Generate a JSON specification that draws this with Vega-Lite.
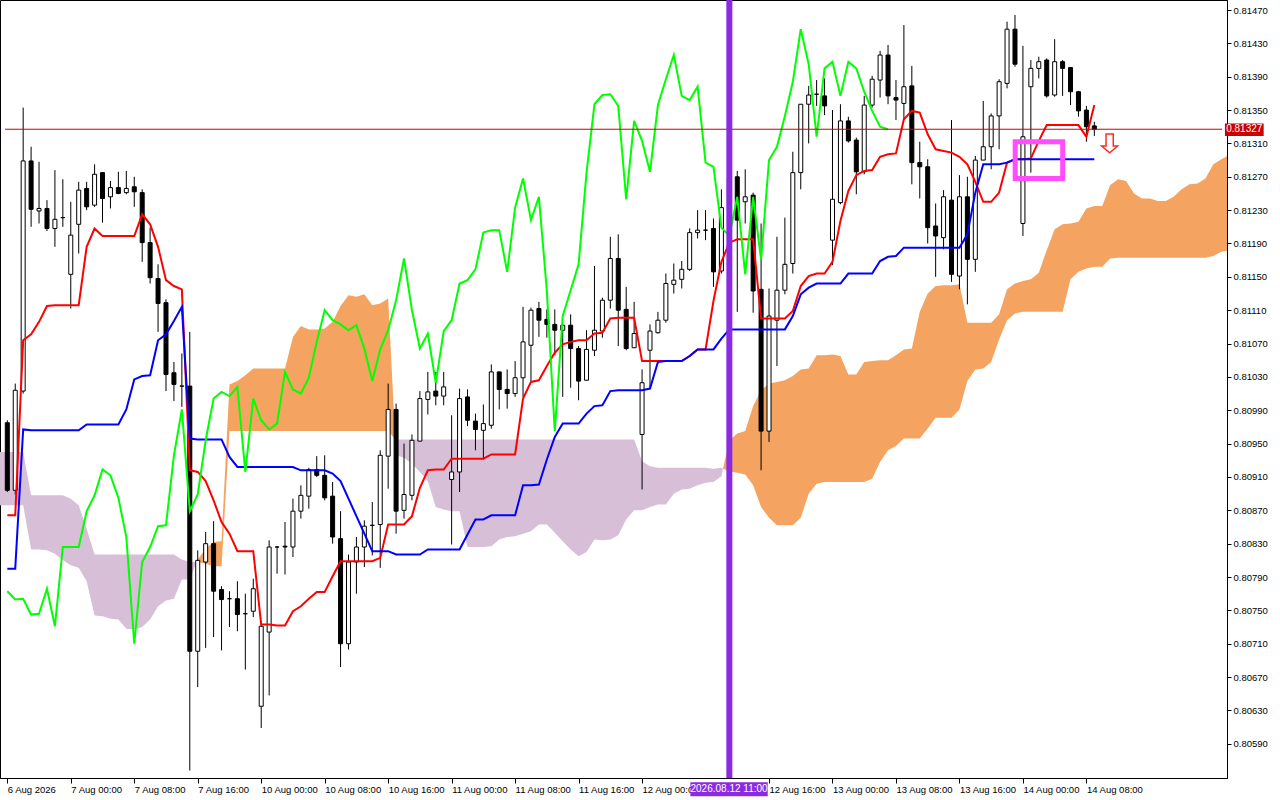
{
  "$schema": "https://vega.github.io/schema/vega-lite/v6.json",
  "width": 1227,
  "height": 778,
  "autosize": "none",
  "padding": {"left": 0, "top": 0, "right": 53, "bottom": 22},
  "background": "#ffffff",
  "datasets": {
    "bars": [
      {"i":0,"o":0.80975,"h":0.80978,"l":0.80892,"c":0.80894,"tk":0.80864,"kj":0.80800,"ck":0.80773},
      {"i":1,"o":0.80894,"h":0.81022,"l":0.80889,"c":0.81014,"tk":0.80864,"kj":0.80800,"ck":0.80763},
      {"i":2,"o":0.81013,"h":0.81353,"l":0.81010,"c":0.81289,"tk":0.81074,"kj":0.80967,"ck":0.80764},
      {"i":3,"o":0.81289,"h":0.81306,"l":0.81210,"c":0.81231,"tk":0.81081,"kj":0.80966,"ck":0.80745},
      {"i":4,"o":0.81229,"h":0.81288,"l":0.81214,"c":0.81232,"tk":0.81096,"kj":0.80966,"ck":0.80746},
      {"i":5,"o":0.81232,"h":0.81242,"l":0.81205,"c":0.81208,"tk":0.81115,"kj":0.80966,"ck":0.80776},
      {"i":6,"o":0.81208,"h":0.81278,"l":0.81186,"c":0.81219,"tk":0.81116,"kj":0.80966,"ck":0.80731},
      {"i":7,"o":0.81221,"h":0.81267,"l":0.81210,"c":0.81221,"tk":0.81116,"kj":0.80966,"ck":0.80826},
      {"i":8,"o":0.81153,"h":0.81240,"l":0.81112,"c":0.81200,"tk":0.81116,"kj":0.80966,"ck":0.80826},
      {"i":9,"o":0.81213,"h":0.81264,"l":0.81178,"c":0.81254,"tk":0.81116,"kj":0.80966,"ck":0.80826},
      {"i":10,"o":0.81256,"h":0.81264,"l":0.81230,"c":0.81234,"tk":0.81186,"kj":0.80973,"ck":0.80869},
      {"i":11,"o":0.81236,"h":0.81285,"l":0.81234,"c":0.81273,"tk":0.81208,"kj":0.80973,"ck":0.80888},
      {"i":12,"o":0.81275,"h":0.81275,"l":0.81215,"c":0.81244,"tk":0.81199,"kj":0.80973,"ck":0.80919},
      {"i":13,"o":0.81246,"h":0.81265,"l":0.81232,"c":0.81257,"tk":0.81199,"kj":0.80973,"ck":0.80912},
      {"i":14,"o":0.81257,"h":0.81276,"l":0.81249,"c":0.81250,"tk":0.81199,"kj":0.80973,"ck":0.80885},
      {"i":15,"o":0.81251,"h":0.81277,"l":0.81249,"c":0.81256,"tk":0.81199,"kj":0.80991,"ck":0.80838},
      {"i":16,"o":0.81258,"h":0.81270,"l":0.81234,"c":0.81252,"tk":0.81199,"kj":0.81027,"ck":0.80710},
      {"i":17,"o":0.81251,"h":0.81255,"l":0.81168,"c":0.81191,"tk":0.81225,"kj":0.81031,"ck":0.80808},
      {"i":18,"o":0.81191,"h":0.81209,"l":0.81142,"c":0.81149,"tk":0.81213,"kj":0.81032,"ck":0.80826},
      {"i":19,"o":0.81148,"h":0.81165,"l":0.81084,"c":0.81118,"tk":0.81186,"kj":0.81074,"ck":0.80851},
      {"i":20,"o":0.81119,"h":0.81123,"l":0.81013,"c":0.81033,"tk":0.81146,"kj":0.81081,"ck":0.80852},
      {"i":21,"o":0.81035,"h":0.81048,"l":0.81001,"c":0.81021,"tk":0.81139,"kj":0.81097,"ck":0.80936},
      {"i":22,"o":0.81019,"h":0.81058,"l":0.80994,"c":0.81019,"tk":0.81135,"kj":0.81114,"ck":0.80991},
      {"i":23,"o":0.81019,"h":0.81084,"l":0.80558,"c":0.80701,"tk":0.80918,"kj":0.80956,"ck":0.80869},
      {"i":24,"o":0.80701,"h":0.80822,"l":0.80658,"c":0.80810,"tk":0.80916,"kj":0.80955,"ck":0.80889},
      {"i":25,"o":0.80808,"h":0.80844,"l":0.80705,"c":0.80830,"tk":0.80905,"kj":0.80955,"ck":0.80954},
      {"i":26,"o":0.80830,"h":0.80857,"l":0.80718,"c":0.80773,"tk":0.80882,"kj":0.80955,"ck":0.81004},
      {"i":27,"o":0.80775,"h":0.80779,"l":0.80702,"c":0.80763,"tk":0.80856,"kj":0.80955,"ck":0.81012},
      {"i":28,"o":0.80764,"h":0.80773,"l":0.80730,"c":0.80764,"tk":0.80842,"kj":0.80934,"ck":0.81007},
      {"i":29,"o":0.80764,"h":0.80785,"l":0.80725,"c":0.80745,"tk":0.80821,"kj":0.80922,"ck":0.81018},
      {"i":30,"o":0.80746,"h":0.80770,"l":0.80679,"c":0.80746,"tk":0.80821,"kj":0.80922,"ck":0.80916},
      {"i":31,"o":0.80749,"h":0.80788,"l":0.80742,"c":0.80776,"tk":0.80821,"kj":0.80922,"ck":0.81004},
      {"i":32,"o":0.80635,"h":0.80737,"l":0.80609,"c":0.80731,"tk":0.80733,"kj":0.80922,"ck":0.80978},
      {"i":33,"o":0.80724,"h":0.80834,"l":0.80648,"c":0.80826,"tk":0.80733,"kj":0.80922,"ck":0.80967},
      {"i":34,"o":0.80826,"h":0.80827,"l":0.80794,"c":0.80826,"tk":0.80732,"kj":0.80922,"ck":0.80974},
      {"i":35,"o":0.80827,"h":0.80856,"l":0.80793,"c":0.80826,"tk":0.80732,"kj":0.80922,"ck":0.81036},
      {"i":36,"o":0.80826,"h":0.80884,"l":0.80814,"c":0.80869,"tk":0.80749,"kj":0.80922,"ck":0.81015},
      {"i":37,"o":0.80869,"h":0.80900,"l":0.80860,"c":0.80888,"tk":0.80755,"kj":0.80918,"ck":0.81010},
      {"i":38,"o":0.80887,"h":0.80921,"l":0.80872,"c":0.80919,"tk":0.80764,"kj":0.80918,"ck":0.81029},
      {"i":39,"o":0.80919,"h":0.80935,"l":0.80910,"c":0.80912,"tk":0.80772,"kj":0.80918,"ck":0.81072},
      {"i":40,"o":0.80912,"h":0.80936,"l":0.80882,"c":0.80885,"tk":0.80772,"kj":0.80918,"ck":0.81110},
      {"i":41,"o":0.80887,"h":0.80904,"l":0.80830,"c":0.80838,"tk":0.80791,"kj":0.80914,"ck":0.81098},
      {"i":42,"o":0.80836,"h":0.80869,"l":0.80682,"c":0.80710,"tk":0.80809,"kj":0.80905,"ck":0.81093},
      {"i":43,"o":0.80710,"h":0.80817,"l":0.80703,"c":0.80808,"tk":0.80809,"kj":0.80884,"ck":0.81086},
      {"i":44,"o":0.80808,"h":0.80838,"l":0.80770,"c":0.80826,"tk":0.80809,"kj":0.80863,"ck":0.81092},
      {"i":45,"o":0.80826,"h":0.80858,"l":0.80802,"c":0.80851,"tk":0.80809,"kj":0.80842,"ck":0.81064},
      {"i":46,"o":0.80852,"h":0.80880,"l":0.80816,"c":0.80852,"tk":0.80809,"kj":0.80821,"ck":0.81025},
      {"i":47,"o":0.80853,"h":0.80942,"l":0.80801,"c":0.80936,"tk":0.80813,"kj":0.80821,"ck":0.81063},
      {"i":48,"o":0.80935,"h":0.81022,"l":0.80896,"c":0.80991,"tk":0.80853,"kj":0.80821,"ck":0.81086},
      {"i":49,"o":0.80991,"h":0.80998,"l":0.80842,"c":0.80869,"tk":0.80853,"kj":0.80817,"ck":0.81122},
      {"i":50,"o":0.80870,"h":0.80950,"l":0.80860,"c":0.80889,"tk":0.80853,"kj":0.80817,"ck":0.81172},
      {"i":51,"o":0.80888,"h":0.80961,"l":0.80882,"c":0.80954,"tk":0.80863,"kj":0.80817,"ck":0.81110},
      {"i":52,"o":0.80953,"h":0.81013,"l":0.80953,"c":0.81004,"tk":0.80897,"kj":0.80817,"ck":0.81064},
      {"i":53,"o":0.81003,"h":0.81036,"l":0.80985,"c":0.81012,"tk":0.80918,"kj":0.80823,"ck":0.81082},
      {"i":54,"o":0.81013,"h":0.81036,"l":0.80996,"c":0.81007,"tk":0.80919,"kj":0.80823,"ck":0.81023},
      {"i":55,"o":0.81007,"h":0.81036,"l":0.80996,"c":0.81018,"tk":0.80919,"kj":0.80823,"ck":0.81085},
      {"i":56,"o":0.80907,"h":0.80984,"l":0.80829,"c":0.80916,"tk":0.80932,"kj":0.80823,"ck":0.81098},
      {"i":57,"o":0.80916,"h":0.81016,"l":0.80892,"c":0.81004,"tk":0.80932,"kj":0.80823,"ck":0.81142},
      {"i":58,"o":0.81006,"h":0.81015,"l":0.80971,"c":0.80978,"tk":0.80932,"kj":0.80841,"ck":0.81146},
      {"i":59,"o":0.80977,"h":0.80986,"l":0.80942,"c":0.80967,"tk":0.80932,"kj":0.80859,"ck":0.81159},
      {"i":60,"o":0.80966,"h":0.80997,"l":0.80931,"c":0.80974,"tk":0.80932,"kj":0.80859,"ck":0.81203},
      {"i":61,"o":0.80972,"h":0.81045,"l":0.80968,"c":0.81036,"tk":0.80937,"kj":0.80864,"ck":0.81206},
      {"i":62,"o":0.81036,"h":0.81036,"l":0.80991,"c":0.81015,"tk":0.80937,"kj":0.80864,"ck":0.81206},
      {"i":63,"o":0.81015,"h":0.81039,"l":0.80992,"c":0.81010,"tk":0.80937,"kj":0.80864,"ck":0.81156},
      {"i":64,"o":0.81010,"h":0.81049,"l":0.81006,"c":0.81029,"tk":0.80937,"kj":0.80864,"ck":0.81233},
      {"i":65,"o":0.81029,"h":0.81114,"l":0.81006,"c":0.81072,"tk":0.81004,"kj":0.80900,"ck":0.81268},
      {"i":66,"o":0.81068,"h":0.81113,"l":0.81025,"c":0.81110,"tk":0.81024,"kj":0.80900,"ck":0.81218},
      {"i":67,"o":0.81112,"h":0.81120,"l":0.81078,"c":0.81098,"tk":0.81026,"kj":0.80901,"ck":0.81246},
      {"i":68,"o":0.81099,"h":0.81111,"l":0.81077,"c":0.81093,"tk":0.81043,"kj":0.80931,"ck":0.81133},
      {"i":69,"o":0.81093,"h":0.81111,"l":0.81056,"c":0.81086,"tk":0.81059,"kj":0.80958,"ck":0.80965},
      {"i":70,"o":0.81086,"h":0.81093,"l":0.81006,"c":0.81092,"tk":0.81069,"kj":0.80974,"ck":0.81103},
      {"i":71,"o":0.81092,"h":0.81105,"l":0.81017,"c":0.81064,"tk":0.81072,"kj":0.80974,"ck":0.81134},
      {"i":72,"o":0.81064,"h":0.81067,"l":0.81002,"c":0.81025,"tk":0.81074,"kj":0.80974,"ck":0.81165},
      {"i":73,"o":0.81026,"h":0.81086,"l":0.81026,"c":0.81063,"tk":0.81074,"kj":0.80986,"ck":0.81275},
      {"i":74,"o":0.81062,"h":0.81163,"l":0.81055,"c":0.81086,"tk":0.81082,"kj":0.80995,"ck":0.81357},
      {"i":75,"o":0.81085,"h":0.81125,"l":0.81077,"c":0.81122,"tk":0.81083,"kj":0.80996,"ck":0.81368},
      {"i":76,"o":0.81122,"h":0.81198,"l":0.81112,"c":0.81172,"tk":0.81100,"kj":0.81013,"ck":0.81369},
      {"i":77,"o":0.81172,"h":0.81201,"l":0.81067,"c":0.81110,"tk":0.81101,"kj":0.81014,"ck":0.81355},
      {"i":78,"o":0.81111,"h":0.81138,"l":0.81062,"c":0.81064,"tk":0.81101,"kj":0.81014,"ck":0.81243},
      {"i":79,"o":0.81065,"h":0.81120,"l":0.81065,"c":0.81082,"tk":0.81101,"kj":0.81014,"ck":0.81337},
      {"i":80,"o":0.80961,"h":0.81039,"l":0.80895,"c":0.81023,"tk":0.81049,"kj":0.81014,"ck":0.81313},
      {"i":81,"o":0.81062,"h":0.81093,"l":0.81016,"c":0.81085,"tk":0.81049,"kj":0.81016,"ck":0.81276},
      {"i":82,"o":0.81083,"h":0.81108,"l":0.81082,"c":0.81098,"tk":0.81049,"kj":0.81048,"ck":0.81356},
      {"i":83,"o":0.81098,"h":0.81154,"l":0.81095,"c":0.81142,"tk":0.81049,"kj":0.81049,"ck":0.81387},
      {"i":84,"o":0.81141,"h":0.81166,"l":0.81130,"c":0.81146,"tk":0.81049,"kj":0.81049,"ck":0.81416},
      {"i":85,"o":0.81147,"h":0.81169,"l":0.81136,"c":0.81159,"tk":0.81049,"kj":0.81049,"ck":0.81367},
      {"i":86,"o":0.81159,"h":0.81208,"l":0.81157,"c":0.81203,"tk":0.81055,"kj":0.81055,"ck":0.81362},
      {"i":87,"o":0.81203,"h":0.81230,"l":0.81196,"c":0.81206,"tk":0.81063,"kj":0.81063,"ck":0.81378},
      {"i":88,"o":0.81206,"h":0.81230,"l":0.81194,"c":0.81206,"tk":0.81063,"kj":0.81063,"ck":0.81287},
      {"i":89,"o":0.81208,"h":0.81220,"l":0.81138,"c":0.81156,"tk":0.81121,"kj":0.81063,"ck":0.81282},
      {"i":90,"o":0.81157,"h":0.81255,"l":0.81154,"c":0.81233,"tk":0.81168,"kj":0.81076,"ck":0.81209},
      {"i":91,"o":0.81233,"h":0.81282,"l":0.81220,"c":0.81268,"tk":0.81191,"kj":0.81087,"ck":0.81199},
      {"i":92,"o":0.81270,"h":0.81277,"l":0.81108,"c":0.81218,"tk":0.81195,"kj":0.81087,"ck":0.81246},
      {"i":93,"o":0.81240,"h":0.81279,"l":0.81214,"c":0.81246,"tk":0.81195,"kj":0.81087,"ck":0.81153},
      {"i":94,"o":0.81248,"h":0.81251,"l":0.81107,"c":0.81133,"tk":0.81195,"kj":0.81087,"ck":0.81246},
      {"i":95,"o":0.81135,"h":0.81214,"l":0.80918,"c":0.80965,"tk":0.81100,"kj":0.81087,"ck":0.81171},
      {"i":96,"o":0.80965,"h":0.81136,"l":0.80952,"c":0.81103,"tk":0.81100,"kj":0.81087,"ck":0.81290},
      {"i":97,"o":0.81098,"h":0.81198,"l":0.81043,"c":0.81134,"tk":0.81100,"kj":0.81087,"ck":0.81306},
      {"i":98,"o":0.81134,"h":0.81221,"l":0.81129,"c":0.81165,"tk":0.81100,"kj":0.81087,"ck":0.81343},
      {"i":99,"o":0.81166,"h":0.81300,"l":0.81154,"c":0.81275,"tk":0.81109,"kj":0.81103,"ck":0.81384},
      {"i":100,"o":0.81275,"h":0.81357,"l":0.81255,"c":0.81357,"tk":0.81139,"kj":0.81129,"ck":0.81447},
      {"i":101,"o":0.81357,"h":0.81379,"l":0.81310,"c":0.81368,"tk":0.81151,"kj":0.81137,"ck":0.81405},
      {"i":102,"o":0.81369,"h":0.81386,"l":0.81355,"c":0.81369,"tk":0.81154,"kj":0.81142,"ck":0.81318},
      {"i":103,"o":0.81367,"h":0.81388,"l":0.81344,"c":0.81355,"tk":0.81154,"kj":0.81142,"ck":0.81400},
      {"i":104,"o":0.81194,"h":0.81350,"l":0.81164,"c":0.81243,"tk":0.81168,"kj":0.81142,"ck":0.81408},
      {"i":105,"o":0.81239,"h":0.81357,"l":0.81237,"c":0.81337,"tk":0.81217,"kj":0.81142,"ck":0.81367},
      {"i":106,"o":0.81337,"h":0.81342,"l":0.81311,"c":0.81313,"tk":0.81253,"kj":0.81154,"ck":0.81408},
      {"i":107,"o":0.81314,"h":0.81317,"l":0.81249,"c":0.81276,"tk":0.81272,"kj":0.81154,"ck":0.81400},
      {"i":108,"o":0.81276,"h":0.81367,"l":0.81273,"c":0.81356,"tk":0.81277,"kj":0.81154,"ck":0.81372},
      {"i":109,"o":0.81356,"h":0.81391,"l":0.81353,"c":0.81387,"tk":0.81278,"kj":0.81154,"ck":0.81349},
      {"i":110,"o":0.81386,"h":0.81421,"l":0.81365,"c":0.81416,"tk":0.81294,"kj":0.81169,"ck":0.81330},
      {"i":111,"o":0.81416,"h":0.81428,"l":0.81357,"c":0.81367,"tk":0.81297,"kj":0.81174,"ck":0.81327},
      {"i":112,"o":0.81365,"h":0.81386,"l":0.81338,"c":0.81362,"tk":0.81298,"kj":0.81175},
      {"i":113,"o":0.81358,"h":0.81452,"l":0.81338,"c":0.81378,"tk":0.81339,"kj":0.81185},
      {"i":114,"o":0.81379,"h":0.81403,"l":0.81261,"c":0.81287,"tk":0.81349,"kj":0.81185},
      {"i":115,"o":0.81287,"h":0.81312,"l":0.81244,"c":0.81282,"tk":0.81347,"kj":0.81185},
      {"i":116,"o":0.81282,"h":0.81291,"l":0.81190,"c":0.81209,"tk":0.81321,"kj":0.81185},
      {"i":117,"o":0.81211,"h":0.81238,"l":0.81150,"c":0.81199,"tk":0.81303,"kj":0.81185},
      {"i":118,"o":0.81197,"h":0.81254,"l":0.81183,"c":0.81246,"tk":0.81301,"kj":0.81185},
      {"i":119,"o":0.81242,"h":0.81338,"l":0.81144,"c":0.81153,"tk":0.81299,"kj":0.81185},
      {"i":120,"o":0.81151,"h":0.81272,"l":0.81135,"c":0.81246,"tk":0.81294,"kj":0.81185},
      {"i":121,"o":0.81246,"h":0.81270,"l":0.81117,"c":0.81171,"tk":0.81285,"kj":0.81201},
      {"i":122,"o":0.81171,"h":0.81295,"l":0.81156,"c":0.81290,"tk":0.81264,"kj":0.81251},
      {"i":123,"o":0.81290,"h":0.81361,"l":0.81290,"c":0.81306,"tk":0.81240,"kj":0.81285},
      {"i":124,"o":0.81306,"h":0.81346,"l":0.81279,"c":0.81343,"tk":0.81240,"kj":0.81285},
      {"i":125,"o":0.81343,"h":0.81387,"l":0.81303,"c":0.81384,"tk":0.81251,"kj":0.81285},
      {"i":126,"o":0.81382,"h":0.81456,"l":0.81376,"c":0.81447,"tk":0.81287,"kj":0.81287},
      {"i":127,"o":0.81447,"h":0.81464,"l":0.81402,"c":0.81405,"tk":0.81291,"kj":0.81291},
      {"i":128,"o":0.81214,"h":0.81427,"l":0.81199,"c":0.81318,"tk":0.81291,"kj":0.81291},
      {"i":129,"o":0.81378,"h":0.81410,"l":0.81275,"c":0.81400,"tk":0.81292,"kj":0.81291},
      {"i":130,"o":0.81400,"h":0.81414,"l":0.81388,"c":0.81408,"tk":0.81313,"kj":0.81291},
      {"i":131,"o":0.81410,"h":0.81412,"l":0.81365,"c":0.81367,"tk":0.81332,"kj":0.81291},
      {"i":132,"o":0.81368,"h":0.81435,"l":0.81366,"c":0.81408,"tk":0.81332,"kj":0.81291},
      {"i":133,"o":0.81408,"h":0.81410,"l":0.81367,"c":0.81400,"tk":0.81332,"kj":0.81291},
      {"i":134,"o":0.81401,"h":0.81401,"l":0.81356,"c":0.81372,"tk":0.81332,"kj":0.81291},
      {"i":135,"o":0.81372,"h":0.81373,"l":0.81342,"c":0.81349,"tk":0.81332,"kj":0.81291},
      {"i":136,"o":0.81350,"h":0.81355,"l":0.81312,"c":0.81330,"tk":0.81318,"kj":0.81291},
      {"i":137,"o":0.81331,"h":0.81336,"l":0.81319,"c":0.81327,"tk":0.81356,"kj":0.81291}
    ],
    "cloud": [
      {"i":-1,"a":0.80876,"b":0.80940,"seg":1,"kind":"bear"},
      {"i":0,"a":0.80876,"b":0.80940,"seg":1,"kind":"bear"},
      {"i":1,"a":0.80876,"b":0.80940,"seg":1,"kind":"bear"},
      {"i":2,"a":0.80876,"b":0.80940,"seg":1,"kind":"bear"},
      {"i":3,"a":0.80823,"b":0.80888,"seg":1,"kind":"bear"},
      {"i":4,"a":0.80823,"b":0.80888,"seg":1,"kind":"bear"},
      {"i":5,"a":0.80822,"b":0.80888,"seg":1,"kind":"bear"},
      {"i":6,"a":0.80818,"b":0.80888,"seg":1,"kind":"bear"},
      {"i":7,"a":0.80810,"b":0.80888,"seg":1,"kind":"bear"},
      {"i":8,"a":0.80804,"b":0.80884,"seg":1,"kind":"bear"},
      {"i":9,"a":0.80801,"b":0.80876,"seg":1,"kind":"bear"},
      {"i":10,"a":0.80785,"b":0.80848,"seg":1,"kind":"bear"},
      {"i":11,"a":0.80744,"b":0.80817,"seg":1,"kind":"bear"},
      {"i":12,"a":0.80743,"b":0.80817,"seg":1,"kind":"bear"},
      {"i":13,"a":0.80740,"b":0.80817,"seg":1,"kind":"bear"},
      {"i":14,"a":0.80739,"b":0.80817,"seg":1,"kind":"bear"},
      {"i":15,"a":0.80728,"b":0.80817,"seg":1,"kind":"bear"},
      {"i":16,"a":0.80727,"b":0.80817,"seg":1,"kind":"bear"},
      {"i":17,"a":0.80730,"b":0.80817,"seg":1,"kind":"bear"},
      {"i":18,"a":0.80739,"b":0.80817,"seg":1,"kind":"bear"},
      {"i":19,"a":0.80755,"b":0.80817,"seg":1,"kind":"bear"},
      {"i":20,"a":0.80762,"b":0.80817,"seg":1,"kind":"bear"},
      {"i":21,"a":0.80764,"b":0.80817,"seg":1,"kind":"bear"},
      {"i":22,"a":0.80787,"b":0.80811,"seg":1,"kind":"bear"},
      {"i":23,"a":0.80787,"b":0.80808,"seg":1,"kind":"bear"},
      {"i":23.85,"a":0.80808,"b":0.80808,"seg":1,"kind":"bear"},
      {"i":23.85,"a":0.80808,"b":0.80808,"seg":2,"kind":"bull"},
      {"i":24,"a":0.80811,"b":0.80808,"seg":2,"kind":"bull"},
      {"i":25,"a":0.80824,"b":0.80806,"seg":2,"kind":"bull"},
      {"i":26,"a":0.80832,"b":0.80803,"seg":2,"kind":"bull"},
      {"i":27,"a":0.80833,"b":0.80803,"seg":2,"kind":"bull"},
      {"i":28,"a":0.81021,"b":0.80965,"seg":2,"kind":"bull"},
      {"i":29,"a":0.81025,"b":0.80965,"seg":2,"kind":"bull"},
      {"i":30,"a":0.81032,"b":0.80965,"seg":2,"kind":"bull"},
      {"i":31,"a":0.81040,"b":0.80965,"seg":2,"kind":"bull"},
      {"i":32,"a":0.81040,"b":0.80965,"seg":2,"kind":"bull"},
      {"i":33,"a":0.81040,"b":0.80965,"seg":2,"kind":"bull"},
      {"i":34,"a":0.81040,"b":0.80965,"seg":2,"kind":"bull"},
      {"i":35,"a":0.81040,"b":0.80965,"seg":2,"kind":"bull"},
      {"i":36,"a":0.81078,"b":0.80965,"seg":2,"kind":"bull"},
      {"i":37,"a":0.81091,"b":0.80965,"seg":2,"kind":"bull"},
      {"i":38,"a":0.81087,"b":0.80965,"seg":2,"kind":"bull"},
      {"i":39,"a":0.81087,"b":0.80965,"seg":2,"kind":"bull"},
      {"i":40,"a":0.81088,"b":0.80965,"seg":2,"kind":"bull"},
      {"i":41,"a":0.81096,"b":0.80965,"seg":2,"kind":"bull"},
      {"i":42,"a":0.81115,"b":0.80965,"seg":2,"kind":"bull"},
      {"i":43,"a":0.81128,"b":0.80965,"seg":2,"kind":"bull"},
      {"i":44,"a":0.81126,"b":0.80965,"seg":2,"kind":"bull"},
      {"i":45,"a":0.81129,"b":0.80965,"seg":2,"kind":"bull"},
      {"i":46,"a":0.81116,"b":0.80965,"seg":2,"kind":"bull"},
      {"i":47,"a":0.81118,"b":0.80965,"seg":2,"kind":"bull"},
      {"i":48,"a":0.81124,"b":0.80965,"seg":2,"kind":"bull"},
      {"i":48.9,"a":0.80955,"b":0.80955,"seg":2,"kind":"bull"},
      {"i":48.9,"a":0.80955,"b":0.80955,"seg":3,"kind":"bear"},
      {"i":49,"a":0.80936,"b":0.80955,"seg":3,"kind":"bear"},
      {"i":50,"a":0.80933,"b":0.80955,"seg":3,"kind":"bear"},
      {"i":51,"a":0.80926,"b":0.80955,"seg":3,"kind":"bear"},
      {"i":52,"a":0.80916,"b":0.80955,"seg":3,"kind":"bear"},
      {"i":53,"a":0.80905,"b":0.80955,"seg":3,"kind":"bear"},
      {"i":54,"a":0.80874,"b":0.80955,"seg":3,"kind":"bear"},
      {"i":55,"a":0.80871,"b":0.80955,"seg":3,"kind":"bear"},
      {"i":56,"a":0.80869,"b":0.80955,"seg":3,"kind":"bear"},
      {"i":57,"a":0.80869,"b":0.80955,"seg":3,"kind":"bear"},
      {"i":58,"a":0.80826,"b":0.80955,"seg":3,"kind":"bear"},
      {"i":59,"a":0.80826,"b":0.80955,"seg":3,"kind":"bear"},
      {"i":60,"a":0.80826,"b":0.80955,"seg":3,"kind":"bear"},
      {"i":61,"a":0.80827,"b":0.80955,"seg":3,"kind":"bear"},
      {"i":62,"a":0.80835,"b":0.80955,"seg":3,"kind":"bear"},
      {"i":63,"a":0.80838,"b":0.80955,"seg":3,"kind":"bear"},
      {"i":64,"a":0.80839,"b":0.80955,"seg":3,"kind":"bear"},
      {"i":65,"a":0.80842,"b":0.80955,"seg":3,"kind":"bear"},
      {"i":66,"a":0.80845,"b":0.80955,"seg":3,"kind":"bear"},
      {"i":67,"a":0.80853,"b":0.80955,"seg":3,"kind":"bear"},
      {"i":68,"a":0.80853,"b":0.80955,"seg":3,"kind":"bear"},
      {"i":69,"a":0.80843,"b":0.80955,"seg":3,"kind":"bear"},
      {"i":70,"a":0.80833,"b":0.80955,"seg":3,"kind":"bear"},
      {"i":71,"a":0.80823,"b":0.80955,"seg":3,"kind":"bear"},
      {"i":72,"a":0.80815,"b":0.80955,"seg":3,"kind":"bear"},
      {"i":73,"a":0.80820,"b":0.80955,"seg":3,"kind":"bear"},
      {"i":74,"a":0.80835,"b":0.80955,"seg":3,"kind":"bear"},
      {"i":75,"a":0.80834,"b":0.80955,"seg":3,"kind":"bear"},
      {"i":76,"a":0.80835,"b":0.80955,"seg":3,"kind":"bear"},
      {"i":77,"a":0.80840,"b":0.80955,"seg":3,"kind":"bear"},
      {"i":78,"a":0.80859,"b":0.80955,"seg":3,"kind":"bear"},
      {"i":79,"a":0.80870,"b":0.80955,"seg":3,"kind":"bear"},
      {"i":80,"a":0.80870,"b":0.80929,"seg":3,"kind":"bear"},
      {"i":81,"a":0.80874,"b":0.80923,"seg":3,"kind":"bear"},
      {"i":82,"a":0.80877,"b":0.80921,"seg":3,"kind":"bear"},
      {"i":83,"a":0.80877,"b":0.80921,"seg":3,"kind":"bear"},
      {"i":84,"a":0.80890,"b":0.80921,"seg":3,"kind":"bear"},
      {"i":85,"a":0.80895,"b":0.80921,"seg":3,"kind":"bear"},
      {"i":86,"a":0.80896,"b":0.80921,"seg":3,"kind":"bear"},
      {"i":87,"a":0.80900,"b":0.80921,"seg":3,"kind":"bear"},
      {"i":88,"a":0.80903,"b":0.80921,"seg":3,"kind":"bear"},
      {"i":89,"a":0.80904,"b":0.80920,"seg":3,"kind":"bear"},
      {"i":90,"a":0.80911,"b":0.80921,"seg":3,"kind":"bear"},
      {"i":90.2,"a":0.80920,"b":0.80920,"seg":3,"kind":"bear"},
      {"i":90.2,"a":0.80920,"b":0.80920,"seg":4,"kind":"bull"},
      {"i":91,"a":0.80954,"b":0.80917,"seg":4,"kind":"bull"},
      {"i":92,"a":0.80962,"b":0.80915,"seg":4,"kind":"bull"},
      {"i":93,"a":0.80965,"b":0.80913,"seg":4,"kind":"bull"},
      {"i":94,"a":0.80995,"b":0.80900,"seg":4,"kind":"bull"},
      {"i":95,"a":0.81014,"b":0.80874,"seg":4,"kind":"bull"},
      {"i":96,"a":0.81022,"b":0.80861,"seg":4,"kind":"bull"},
      {"i":97,"a":0.81024,"b":0.80852,"seg":4,"kind":"bull"},
      {"i":98,"a":0.81026,"b":0.80852,"seg":4,"kind":"bull"},
      {"i":99,"a":0.81031,"b":0.80852,"seg":4,"kind":"bull"},
      {"i":100,"a":0.81039,"b":0.80861,"seg":4,"kind":"bull"},
      {"i":101,"a":0.81040,"b":0.80890,"seg":4,"kind":"bull"},
      {"i":102,"a":0.81056,"b":0.80902,"seg":4,"kind":"bull"},
      {"i":103,"a":0.81056,"b":0.80904,"seg":4,"kind":"bull"},
      {"i":104,"a":0.81057,"b":0.80904,"seg":4,"kind":"bull"},
      {"i":105,"a":0.81055,"b":0.80904,"seg":4,"kind":"bull"},
      {"i":106,"a":0.81033,"b":0.80904,"seg":4,"kind":"bull"},
      {"i":107,"a":0.81033,"b":0.80904,"seg":4,"kind":"bull"},
      {"i":108,"a":0.81048,"b":0.80904,"seg":4,"kind":"bull"},
      {"i":109,"a":0.81049,"b":0.80908,"seg":4,"kind":"bull"},
      {"i":110,"a":0.81050,"b":0.80928,"seg":4,"kind":"bull"},
      {"i":111,"a":0.81050,"b":0.80942,"seg":4,"kind":"bull"},
      {"i":112,"a":0.81056,"b":0.80947,"seg":4,"kind":"bull"},
      {"i":113,"a":0.81063,"b":0.80956,"seg":4,"kind":"bull"},
      {"i":114,"a":0.81064,"b":0.80956,"seg":4,"kind":"bull"},
      {"i":115,"a":0.81108,"b":0.80956,"seg":4,"kind":"bull"},
      {"i":116,"a":0.81130,"b":0.80968,"seg":4,"kind":"bull"},
      {"i":117,"a":0.81139,"b":0.80981,"seg":4,"kind":"bull"},
      {"i":118,"a":0.81140,"b":0.80981,"seg":4,"kind":"bull"},
      {"i":119,"a":0.81140,"b":0.80981,"seg":4,"kind":"bull"},
      {"i":120,"a":0.81141,"b":0.80991,"seg":4,"kind":"bull"},
      {"i":121,"a":0.81095,"b":0.81025,"seg":4,"kind":"bull"},
      {"i":122,"a":0.81095,"b":0.81039,"seg":4,"kind":"bull"},
      {"i":123,"a":0.81095,"b":0.81040,"seg":4,"kind":"bull"},
      {"i":124,"a":0.81095,"b":0.81048,"seg":4,"kind":"bull"},
      {"i":125,"a":0.81105,"b":0.81075,"seg":4,"kind":"bull"},
      {"i":126,"a":0.81135,"b":0.81098,"seg":4,"kind":"bull"},
      {"i":127,"a":0.81142,"b":0.81106,"seg":4,"kind":"bull"},
      {"i":128,"a":0.81145,"b":0.81108,"seg":4,"kind":"bull"},
      {"i":129,"a":0.81147,"b":0.81108,"seg":4,"kind":"bull"},
      {"i":130,"a":0.81155,"b":0.81108,"seg":4,"kind":"bull"},
      {"i":131,"a":0.81182,"b":0.81108,"seg":4,"kind":"bull"},
      {"i":132,"a":0.81207,"b":0.81108,"seg":4,"kind":"bull"},
      {"i":133,"a":0.81213,"b":0.81108,"seg":4,"kind":"bull"},
      {"i":134,"a":0.81214,"b":0.81147,"seg":4,"kind":"bull"},
      {"i":135,"a":0.81216,"b":0.81156,"seg":4,"kind":"bull"},
      {"i":136,"a":0.81232,"b":0.81160,"seg":4,"kind":"bull"},
      {"i":137,"a":0.81235,"b":0.81162,"seg":4,"kind":"bull"},
      {"i":138,"a":0.81235,"b":0.81162,"seg":4,"kind":"bull"},
      {"i":139,"a":0.81260,"b":0.81172,"seg":4,"kind":"bull"},
      {"i":140,"a":0.81267,"b":0.81173,"seg":4,"kind":"bull"},
      {"i":141,"a":0.81265,"b":0.81173,"seg":4,"kind":"bull"},
      {"i":142,"a":0.81250,"b":0.81173,"seg":4,"kind":"bull"},
      {"i":143,"a":0.81244,"b":0.81173,"seg":4,"kind":"bull"},
      {"i":144,"a":0.81244,"b":0.81173,"seg":4,"kind":"bull"},
      {"i":145,"a":0.81241,"b":0.81173,"seg":4,"kind":"bull"},
      {"i":146,"a":0.81241,"b":0.81173,"seg":4,"kind":"bull"},
      {"i":147,"a":0.81246,"b":0.81173,"seg":4,"kind":"bull"},
      {"i":148,"a":0.81255,"b":0.81173,"seg":4,"kind":"bull"},
      {"i":149,"a":0.81261,"b":0.81173,"seg":4,"kind":"bull"},
      {"i":150,"a":0.81262,"b":0.81173,"seg":4,"kind":"bull"},
      {"i":151,"a":0.81268,"b":0.81173,"seg":4,"kind":"bull"},
      {"i":152,"a":0.81285,"b":0.81175,"seg":4,"kind":"bull"},
      {"i":153,"a":0.81291,"b":0.81180,"seg":4,"kind":"bull"},
      {"i":154,"a":0.81296,"b":0.81182,"seg":4,"kind":"bull"}
    ],
    "bid": [{"i": -0.29, "i2": 153.09, "p": 0.81327}],
    "marker": [{"i": 91}],
    "box": [{"i": 127.03, "i2": 133.01, "p": 0.81312, "p2": 0.81268}],
    "arrow": [{"i": 138.93, "p": 0.81310}],
    "tags": [
      {"i": 153.46, "i2": 158.34, "p": 0.81334, "p2": 0.81319, "ti": 155.9, "tp": 0.81327, "text": "0.81327", "kind": "bid"},
      {"i": 86.09, "i2": 95.84, "p": 0.80544, "p2": 0.80527, "ti": 90.96, "tp": 0.805358, "text": "2026.08.12 11:00", "kind": "time"}
    ]
  },
  "encoding": {
    "x": {
      "field": "i",
      "type": "quantitative",
      "title": null,
      "scale": {"domain": [-0.29, 153.09], "zero": false, "nice": false},
      "axis": {
        "values": [0, 8, 16, 24, 32, 40, 48, 56, 64, 72, 80, 96, 104, 112, 120, 128, 136],
        "labelExpr": "['6 Aug 2026','7 Aug 00:00','7 Aug 08:00','7 Aug 16:00','10 Aug 00:00','10 Aug 08:00','10 Aug 16:00','11 Aug 00:00','11 Aug 08:00','11 Aug 16:00','12 Aug 00:00','12 Aug 08:00','12 Aug 16:00','13 Aug 00:00','13 Aug 08:00','13 Aug 16:00','14 Aug 00:00','14 Aug 08:00'][round(datum.value / 8)]",
        "tickCount": 40,
        "labelAlign": "left",
        "labelBaseline": "top",
        "labelFlush": false,
        "labelOverlap": false,
        "tickSize": 5,
        "labelPadding": 1,
        "grid": false
      }
    }
  },
  "layer": [
    {
      "data": {"name": "cloud"},
      "mark": {"type": "area", "clip": true, "opacity": 1},
      "encoding": {
        "y": {
          "field": "a",
          "type": "quantitative",
          "stack": null,
          "title": null,
          "scale": {"domain": [0.80549, 0.81482], "zero": false, "nice": false},
          "axis": {
            "orient": "right",
            "values": [0.8059, 0.8063, 0.8067, 0.8071, 0.8075, 0.8079, 0.8083, 0.8087, 0.8091, 0.8095, 0.8099, 0.8103, 0.8107, 0.8111, 0.8115, 0.8119, 0.8123, 0.8127, 0.8131, 0.8135, 0.8139, 0.8143, 0.8147],
            "tickCount": 40,
            "format": ".5f",
            "tickSize": 4,
            "labelPadding": 2,
            "labelBaseline": "middle",
            "labelOverlap": false,
            "labelFlush": false,
            "grid": false
          }
        },
        "y2": {"field": "b"},
        "detail": {"field": "seg", "type": "nominal"},
        "color": {
          "field": "kind",
          "type": "nominal",
          "scale": {"domain": ["bear", "bull"], "range": ["#d8bfd8", "#f4a460"]},
          "legend": null
        }
      }
    },
    {
      "data": {"name": "bars"},
      "mark": {"type": "rule", "color": "#000000", "strokeWidth": 1},
      "encoding": {
        "y": {"field": "l", "type": "quantitative", "title": null},
        "y2": {"field": "h"}
      }
    },
    {
      "data": {"name": "bars"},
      "mark": {"type": "bar", "size": 4, "stroke": "#000000", "strokeWidth": 1},
      "encoding": {
        "y": {"field": "o", "type": "quantitative", "title": null},
        "y2": {"field": "c"},
        "fill": {
          "condition": {"test": "datum.c > datum.o", "value": "#ffffff"},
          "value": "#000000"
        }
      }
    },
    {
      "data": {"name": "bars"},
      "mark": {"type": "line", "color": "#ff0000", "strokeWidth": 2},
      "encoding": {"y": {"field": "tk", "type": "quantitative", "title": null}}
    },
    {
      "data": {"name": "bars"},
      "mark": {"type": "line", "color": "#0000ff", "strokeWidth": 2},
      "encoding": {"y": {"field": "kj", "type": "quantitative", "title": null}}
    },
    {
      "data": {"name": "bars"},
      "mark": {"type": "line", "color": "#00ff00", "strokeWidth": 2},
      "encoding": {"y": {"field": "ck", "type": "quantitative", "title": null}}
    },
    {
      "data": {"name": "bid"},
      "mark": {"type": "rule", "color": "#cc0000", "strokeWidth": 1},
      "encoding": {
        "x2": {"field": "i2"},
        "y": {"field": "p", "type": "quantitative", "title": null}
      }
    },
    {
      "data": {"name": "marker"},
      "mark": {"type": "rule", "color": "#8a2be2", "strokeWidth": 6},
      "encoding": {}
    },
    {
      "data": {"name": "box"},
      "mark": {"type": "rect", "fill": "transparent", "stroke": "#ff4dff", "strokeWidth": 5},
      "encoding": {
        "x2": {"field": "i2"},
        "y": {"field": "p", "type": "quantitative", "title": null},
        "y2": {"field": "p2"}
      }
    },
    {
      "data": {"name": "arrow"},
      "mark": {
        "type": "point",
        "shape": "M-0.38,-0.98L0.38,-0.98L0.38,0.28L0.84,0.28L0,0.98L-0.84,0.28L-0.38,0.28Z",
        "size": 361,
        "filled": true,
        "fill": "#ffffff",
        "stroke": "#ff2a2a",
        "strokeWidth": 1.5,
        "opacity": 1
      },
      "encoding": {
        "y": {"field": "p", "type": "quantitative", "title": null}
      }
    },
    {
      "data": {"name": "tags"},
      "mark": {"type": "rect"},
      "encoding": {
        "x2": {"field": "i2"},
        "y": {"field": "p", "type": "quantitative", "title": null},
        "y2": {"field": "p2"},
        "fill": {
          "condition": {"test": "datum.kind === 'bid'", "value": "#cc0000"},
          "value": "#8a2be2"
        }
      }
    },
    {
      "data": {"name": "tags"},
      "mark": {"type": "text", "color": "#ffffff", "font": "Liberation Sans", "fontSize": 10, "align": "center", "baseline": "middle"},
      "encoding": {
        "x": {"field": "ti", "type": "quantitative"},
        "y": {"field": "tp", "type": "quantitative", "title": null},
        "text": {"field": "text"}
      }
    }
  ],
  "config": {
    "view": {"stroke": "#000000", "strokeWidth": 1},
    "axis": {
      "labelFont": "Liberation Sans",
      "labelFontSize": 9.5,
      "labelColor": "#000000",
      "domainColor": "#000000",
      "tickColor": "#000000",
      "labelOverlap": false,
      "grid": false
    }
  }
}
